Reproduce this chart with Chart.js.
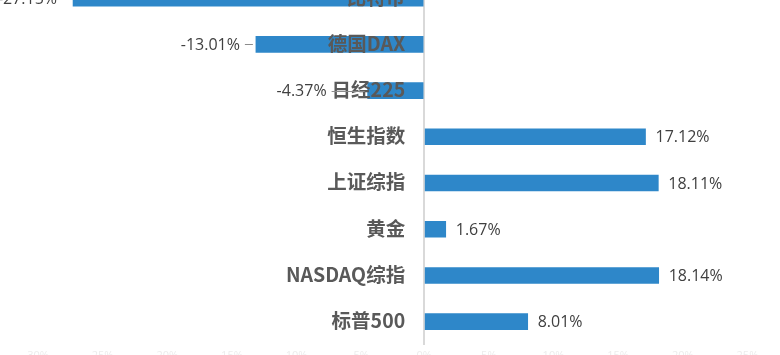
<!DOCTYPE html>
<html>
<head>
<meta charset="utf-8">
<script src="https://cdn.jsdelivr.net/npm/chart.js@4"></script>
<style>
    html, body { margin: 0; padding: 0; background: #fff; overflow: hidden; }
    body { width: 780px; height: 355px; position: relative; }
    #wrap { position: absolute; left: 0; top: -25px; width: 780px; height: 391px; }
</style>
</head>
<body>
<div id="wrap"><canvas id="returnChart"></canvas></div>
<script>
const categories = ['比特币', '德国DAX', '日经225', '恒生指数', '上证综指', '黄金', 'NASDAQ综指', '标普500'];
const returns = [-27.15, -13.01, -4.37, 17.12, 18.11, 1.67, 18.14, 8.01];
const axisMin = -32.8;
const axisMax = 27.52;

const catFont = 'bold 19.5px "Noto Sans CJK SC", "Noto Sans", sans-serif';
const valueFont = '16px "Open Sans", "Noto Sans", sans-serif';

// Draw category names next to the zero line and the value labels
const labelPlugin = {
    id: 'labelPlugin',
    afterDatasetsDraw(chart) {
        const ctx = chart.ctx;
        const xScale = chart.scales.x;
        const zeroX = xScale.getPixelForValue(0);
        const bars = chart.getDatasetMeta(0).data;

        ctx.save();
        ctx.textBaseline = 'middle';

        bars.forEach((bar, i) => {
            const value = returns[i];
            const y = bar.y;

            // category name
            ctx.font = catFont;
            ctx.fillStyle = '#595959';
            ctx.textAlign = 'right';
            const catRight = zeroX - 19;
            ctx.fillText(categories[i], catRight, y - 1);
            const catLeft = catRight - ctx.measureText(categories[i]).width;

            // value label
            ctx.font = valueFont;
            ctx.fillStyle = '#404040';
            const text = value.toFixed(2) + '%';
            if (value < 0) {
                const textRight = Math.min(bar.x - 16, catLeft - 5);
                ctx.textAlign = 'right';
                ctx.fillText(text, textRight, y + 1);
                const lineStart = textRight + 5;
                const lineEnd = bar.x - 3;
                if (lineEnd - lineStart > 4) {
                    ctx.strokeStyle = '#8c8c8c';
                    ctx.lineWidth = 1;
                    ctx.beginPath();
                    ctx.moveTo(lineStart, Math.round(y) + 0.5);
                    ctx.lineTo(lineEnd, Math.round(y) + 0.5);
                    ctx.stroke();
                }
            } else {
                ctx.textAlign = 'left';
                ctx.fillText(text, bar.x + 10, y + 1);
            }
        });

        ctx.restore();
    }
};

new Chart(document.getElementById('returnChart'), {
    type: 'bar',
    data: {
        labels: categories,
        datasets: [{
            data: returns,
            backgroundColor: '#2e87c9',
            borderWidth: 0,
            barThickness: 16,
        }]
    },
    options: {
        indexAxis: 'y',
        responsive: true,
        maintainAspectRatio: false,
        animation: false,
        layout: { padding: 0 },
        plugins: {
            legend: { display: false },
            tooltip: { enabled: false },
        },
        scales: {
            y: {
                display: false,
            },
            x: {
                min: axisMin,
                max: axisMax,
                afterBuildTicks: (scale) => {
                    scale.ticks = scale.ticks.filter(t => Math.abs(t.value % 5) < 1e-6);
                },
                ticks: {
                    stepSize: 5,
                    includeBounds: false,
                    padding: 4,
                    autoSkip: false,
                    maxRotation: 0,
                    color: '#ececec',
                    font: { size: 11, family: '"Open Sans", sans-serif' },
                    callback: (v) => v + '%',
                },
                grid: {
                    drawTicks: false,
                    lineWidth: 2,
                    color: (c) => (c.tick && c.tick.value === 0 ? '#d9d9d9' : 'rgba(0,0,0,0)'),
                },
                border: { display: false },
            }
        }
    },
    plugins: [labelPlugin],
});
</script>
</body>
</html>
